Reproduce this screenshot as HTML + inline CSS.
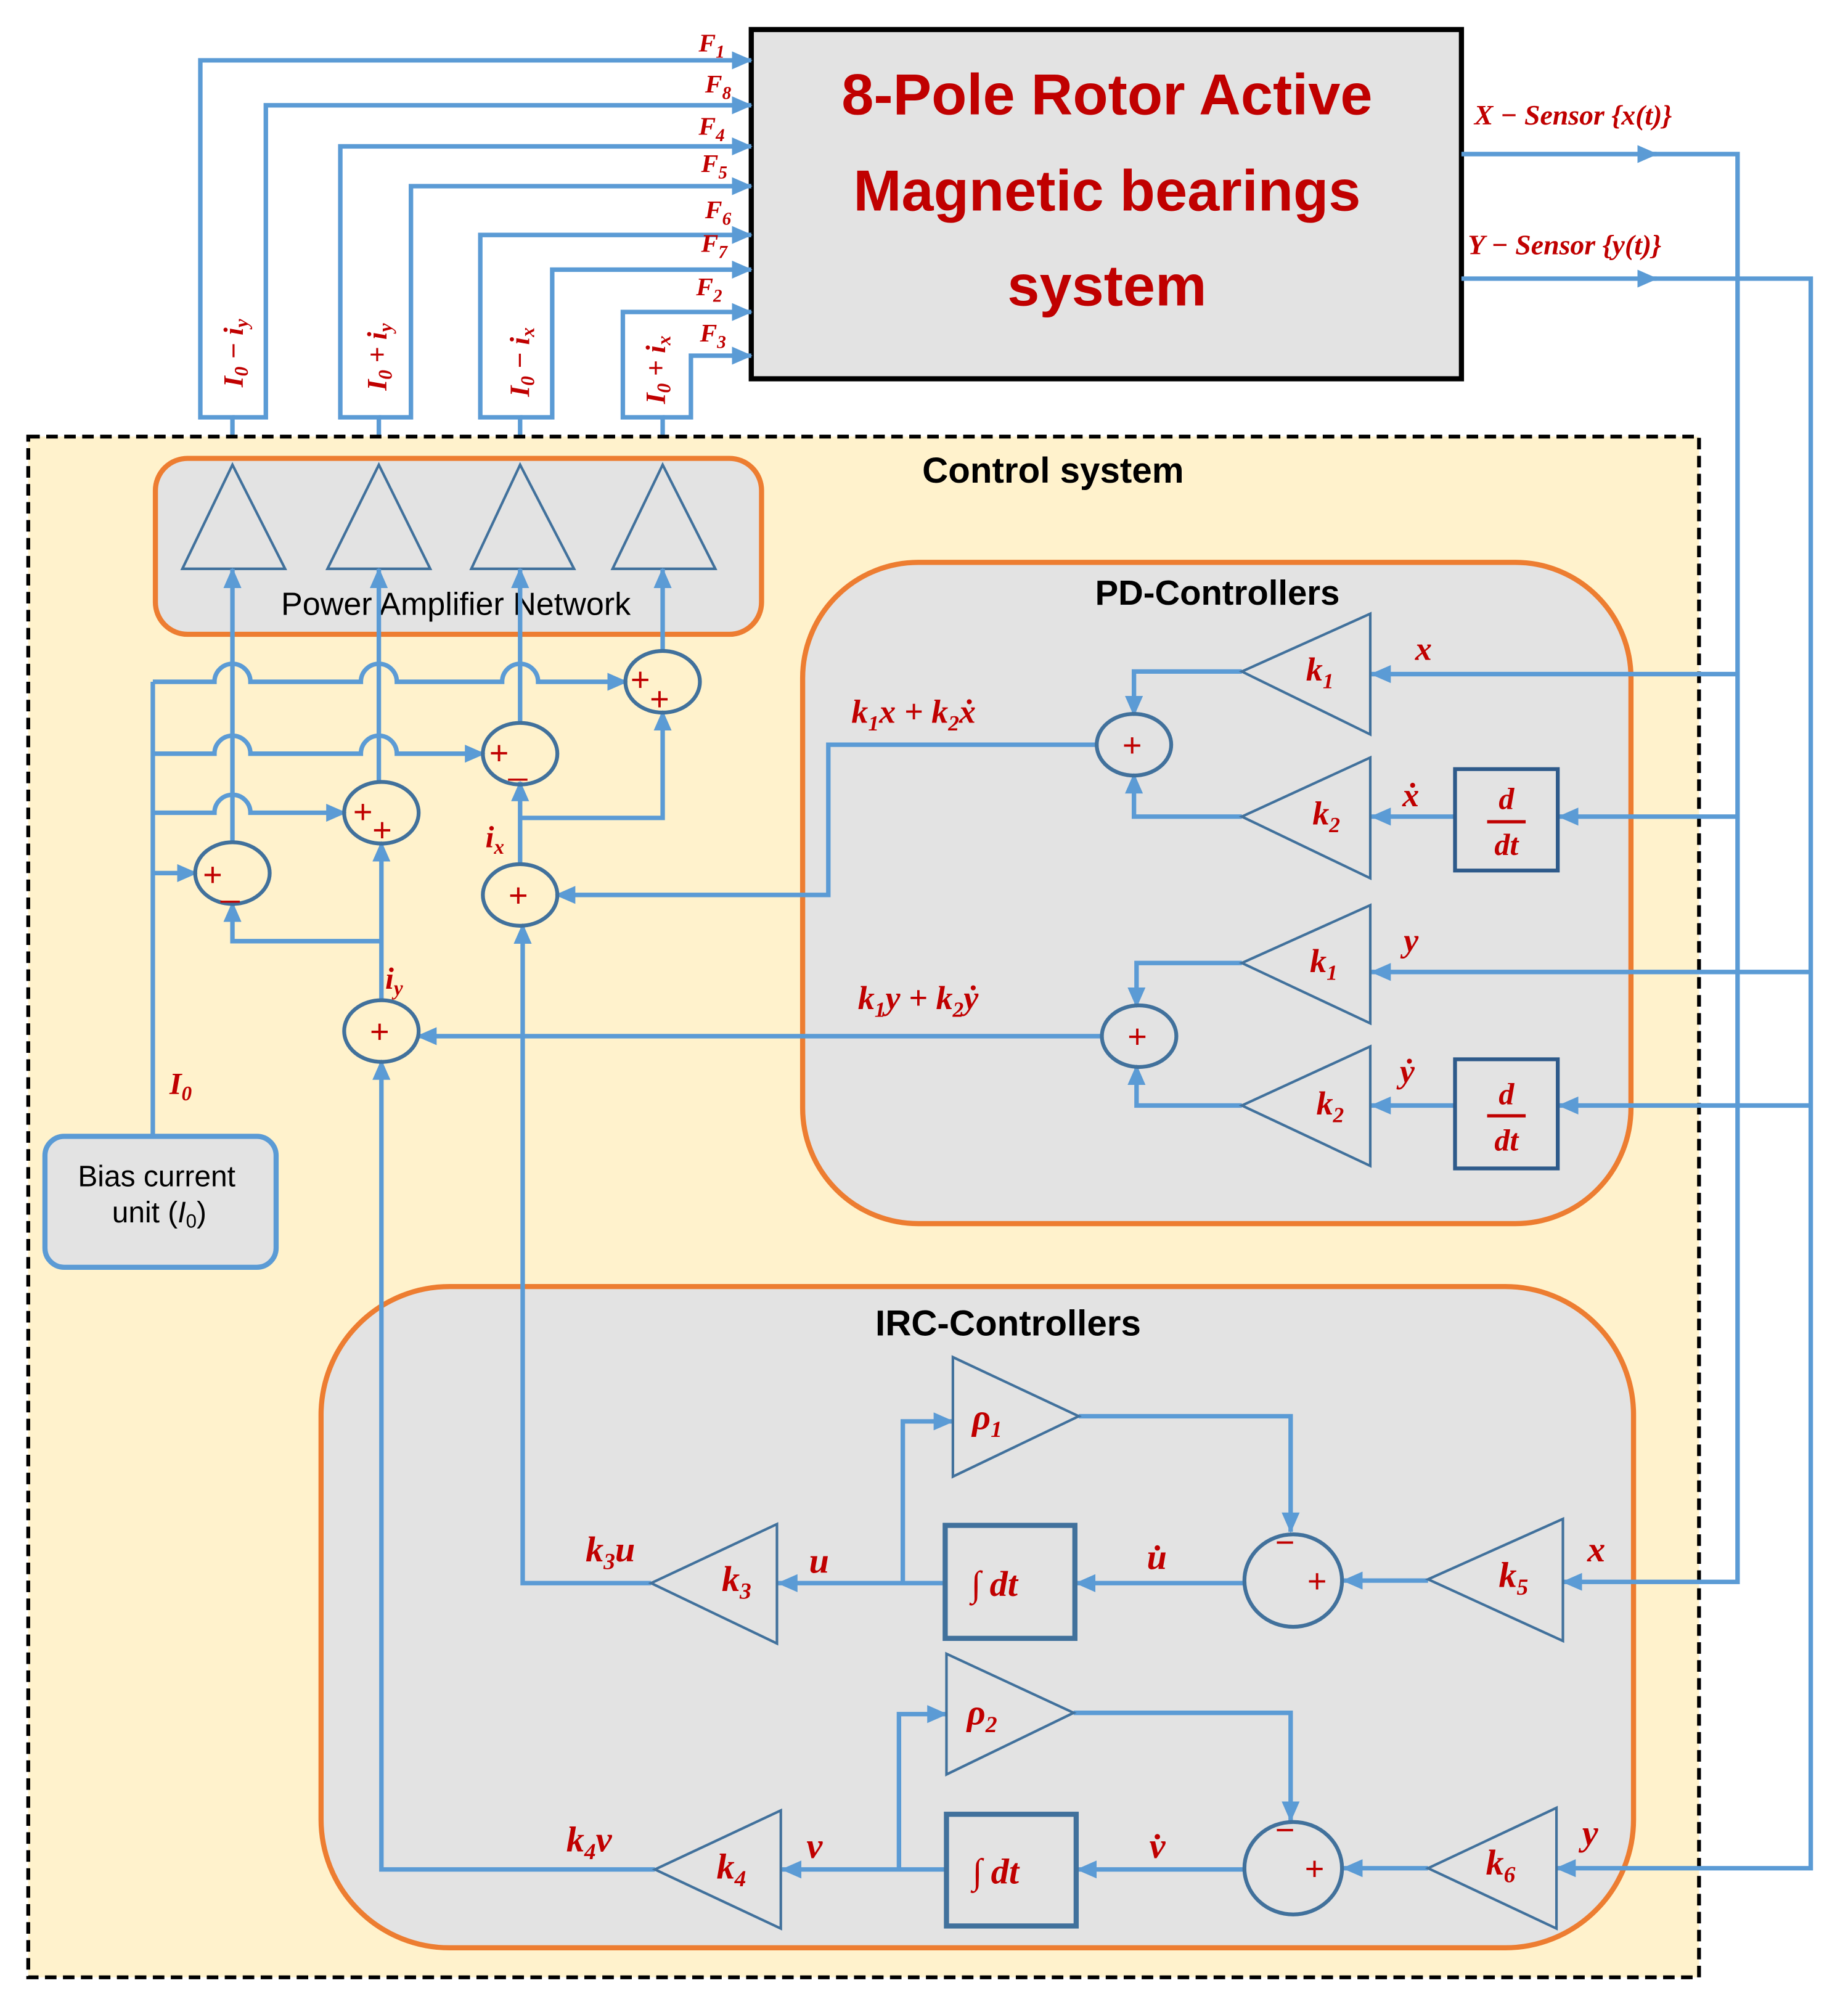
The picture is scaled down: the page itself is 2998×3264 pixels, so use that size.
<!DOCTYPE html>
<html><head><meta charset="utf-8"><style>
html,body{margin:0;padding:0;background:#fff;}
svg{display:block;}
.m{font-family:"Liberation Serif",serif;font-style:italic;font-weight:bold;fill:#c00000;}
.s{font-family:"Liberation Sans",sans-serif;}
.w{fill:none;stroke:#5b9bd5;stroke-width:3.5;}
.c{fill:none;stroke:#41719c;stroke-width:3;}
.t{fill:#e3e3e3;stroke:#41719c;stroke-width:2;}
.pl{font-family:"Liberation Sans",sans-serif;fill:#c00000;font-size:26px;}
</style></head><body>
<svg width="2998" height="3264" viewBox="0 0 1439 1567" preserveAspectRatio="none" xmlns="http://www.w3.org/2000/svg">
<defs>
<marker id="a" markerUnits="userSpaceOnUse" markerWidth="16" markerHeight="14" refX="15" refY="7" orient="auto">
<path d="M0,0 L16,7 L0,14 Z" fill="#5b9bd5"/></marker>
</defs>
<rect width="1439" height="1567" fill="#fff"/>

<!-- main box -->
<rect x="585" y="23" width="553" height="272" fill="#e3e3e3" stroke="#000" stroke-width="4"/>
<g class="s" font-weight="bold" fill="#c00000" font-size="45" text-anchor="middle">
<text x="862" y="89">8-Pole Rotor Active</text>
<text x="862" y="164">Magnetic bearings</text>
<text x="862" y="238">system</text>
</g>

<!-- force lines -->
<g class="w">
<path d="M181 360 V325 H156 V47 H585" marker-end="url(#a)"/>
<path d="M181 325 H207 V82 H585" marker-end="url(#a)"/>
<path d="M295 360 V325 H265 V114 H585" marker-end="url(#a)"/>
<path d="M295 325 H320 V145 H585" marker-end="url(#a)"/>
<path d="M405 360 V325 H374 V183 H585" marker-end="url(#a)"/>
<path d="M405 325 H430 V210 H585" marker-end="url(#a)"/>
<path d="M516 360 V325 H485 V243 H585" marker-end="url(#a)"/>
<path d="M516 325 H538 V277 H585" marker-end="url(#a)"/>
</g>
<g class="m" font-size="20">
<text x="544" y="40">F<tspan font-size="14" dy="5">1</tspan></text>
<text x="549" y="72">F<tspan font-size="14" dy="5">8</tspan></text>
<text x="544" y="105">F<tspan font-size="14" dy="5">4</tspan></text>
<text x="546" y="134">F<tspan font-size="14" dy="5">5</tspan></text>
<text x="549" y="170">F<tspan font-size="14" dy="5">6</tspan></text>
<text x="546" y="196">F<tspan font-size="14" dy="5">7</tspan></text>
<text x="542" y="230">F<tspan font-size="14" dy="5">2</tspan></text>
<text x="545" y="266">F<tspan font-size="14" dy="5">3</tspan></text>
</g>
<g class="m" font-size="22" text-anchor="middle">
<text transform="translate(189,275) rotate(-90)">I<tspan font-size="15" dy="4">0</tspan><tspan dy="-4"> − i</tspan><tspan font-size="15" dy="4">y</tspan></text>
<text transform="translate(301,278) rotate(-90)">I<tspan font-size="15" dy="4">0</tspan><tspan dy="-4"> + i</tspan><tspan font-size="15" dy="4">y</tspan></text>
<text transform="translate(412,282) rotate(-90)">I<tspan font-size="15" dy="4">0</tspan><tspan dy="-4"> − i</tspan><tspan font-size="15" dy="4">x</tspan></text>
<text transform="translate(518,288) rotate(-90)">I<tspan font-size="15" dy="4">0</tspan><tspan dy="-4"> + i</tspan><tspan font-size="15" dy="4">x</tspan></text>
</g>

<g class="m" font-size="22">
<text x="1148" y="97">X − Sensor {x(t)}</text>
<text x="1143" y="198">Y − Sensor {y(t)}</text>
</g>

<!-- control system -->
<rect x="22" y="340" width="1301" height="1200" fill="#fff2cc" stroke="#000" stroke-width="3" stroke-dasharray="9,5"/>
<text x="820" y="376" class="s" font-weight="bold" font-size="28" text-anchor="middle">Control system</text>

<!-- power amplifier -->
<rect x="121" y="357" width="472" height="137" rx="25" fill="#e3e3e3" stroke="#ed7d31" stroke-width="4"/>
<g class="t">
<path d="M181 362 L142 443 H222 Z"/><path d="M295 362 L255 443 H335 Z"/>
<path d="M405 362 L367 443 H447 Z"/><path d="M516 362 L477 443 H557 Z"/>
</g>
<text x="355" y="479" class="s" font-size="25" text-anchor="middle">Power Amplifier Network</text>

<!-- PD box -->
<rect x="625" y="438" width="645" height="515" rx="90" fill="#e3e3e3" stroke="#ed7d31" stroke-width="4"/>
<text x="948" y="471" class="s" font-weight="bold" font-size="27" text-anchor="middle">PD-Controllers</text>
<!-- IRC box -->
<rect x="250" y="1002" width="1022" height="515" rx="100" fill="#e3e3e3" stroke="#ed7d31" stroke-width="4"/>
<text x="785" y="1040" class="s" font-weight="bold" font-size="28" text-anchor="middle">IRC-Controllers</text>

<!-- bias box -->
<rect x="35" y="885" width="180" height="102" rx="15" fill="#e3e3e3" stroke="#5b9bd5" stroke-width="4"/>
<text x="122" y="924" class="s" font-size="23" text-anchor="middle">Bias current</text>
<text x="124" y="952" class="s" font-size="23" text-anchor="middle">unit (<tspan font-style="italic">I</tspan><tspan font-size="15" dy="4">0</tspan><tspan dy="-4">)</tspan></text>

<!-- sensors -->
<g class="w">
<path d="M1138 120 H1290" marker-end="url(#a)"/>
<path d="M1280 120 H1353 V1232 H1217" marker-end="url(#a)"/>
<path d="M1138 217 H1290" marker-end="url(#a)"/>
<path d="M1280 217 H1410 V1455 H1212" marker-end="url(#a)"/>
</g>

<!-- summing network wires -->
<g class="w">
<path d="M119 885 V531"/>
<path d="M119 531 H167 a14 14 0 0 1 28 0 H281 a14 14 0 0 1 28 0 H391 a14 14 0 0 1 28 0 H488" marker-end="url(#a)"/>
<path d="M119 587 H167 a14 14 0 0 1 28 0 H281 a14 14 0 0 1 28 0 H377" marker-end="url(#a)"/>
<path d="M119 633 H167 a14 14 0 0 1 28 0 H269" marker-end="url(#a)"/>
<path d="M119 680 H153" marker-end="url(#a)"/>
<path d="M181 656 V443" marker-end="url(#a)"/>
<path d="M295 609 V443" marker-end="url(#a)"/>
<path d="M405 563 V443" marker-end="url(#a)"/>
<path d="M516 508 V443" marker-end="url(#a)"/>
<path d="M405 673 V609" marker-end="url(#a)"/>
<path d="M405 637 H516 V554" marker-end="url(#a)"/>
<path d="M297 780 V656" marker-end="url(#a)"/>
<path d="M297 733 H181 V703" marker-end="url(#a)"/>
<path d="M855 580 H645 V697 H433" marker-end="url(#a)"/>
<path d="M859 807 H325" marker-end="url(#a)"/>
<path d="M507 1233 H407 V720" marker-end="url(#a)"/>
<path d="M510 1456 H297 V826" marker-end="url(#a)"/>
</g>
<g class="c">
<ellipse cx="181" cy="680" rx="29" ry="24"/>
<ellipse cx="297" cy="633" rx="29" ry="24"/>
<ellipse cx="405" cy="587" rx="29" ry="24"/>
<ellipse cx="516" cy="531" rx="29" ry="24"/>
<ellipse cx="405" cy="697" rx="29" ry="24"/>
<ellipse cx="297" cy="803" rx="29" ry="24"/>
</g>
<g class="pl">
<text x="158" y="690">+</text><text x="172" y="698">_</text>
<text x="275" y="641">+</text><text x="290" y="655">+</text>
<text x="381" y="595">+</text><text x="396" y="603">_</text>
<text x="491" y="538">+</text><text x="506" y="553">+</text>
<text x="396" y="706">+</text><text x="288" y="812">+</text>
</g>
<g class="m" font-size="24">
<text x="378" y="660">i<tspan font-size="16" dy="5">x</tspan></text>
<text x="300" y="770">i<tspan font-size="16" dy="5">y</tspan></text>
<text x="132" y="852">I<tspan font-size="16" dy="5">0</tspan></text>
</g>

<!-- PD internals -->
<g class="w">
<path d="M1353 525 H1068" marker-end="url(#a)"/>
<path d="M1353 636 H1214" marker-end="url(#a)"/>
<path d="M1133 636 H1068" marker-end="url(#a)"/>
<path d="M967 523 H883 V557" marker-end="url(#a)"/>
<path d="M967 636 H883 V603" marker-end="url(#a)"/>
<path d="M1410 757 H1068" marker-end="url(#a)"/>
<path d="M1410 861 H1214" marker-end="url(#a)"/>
<path d="M1133 861 H1068" marker-end="url(#a)"/>
<path d="M967 750 H885 V784" marker-end="url(#a)"/>
<path d="M967 861 H885 V830" marker-end="url(#a)"/>
</g>
<g class="t">
<path d="M967 523 L1067 478 V572 Z"/><path d="M967 636 L1067 590 V684 Z"/>
<path d="M967 750 L1067 705 V797 Z"/><path d="M967 861 L1067 815 V908 Z"/>
</g>
<rect x="1133" y="599" width="80" height="79" fill="#e3e3e3" stroke="#2e5a8a" stroke-width="3"/>
<rect x="1133" y="825" width="80" height="85" fill="#e3e3e3" stroke="#2e5a8a" stroke-width="3"/>
<g class="c"><ellipse cx="883" cy="580" rx="29" ry="24"/><ellipse cx="887" cy="807" rx="29" ry="24"/></g>
<g class="pl"><text x="874" y="589">+</text><text x="878" y="816">+</text></g>
<g class="m" font-size="24" text-anchor="middle">
<text x="1173" y="630">d</text><text x="1173" y="666">dt</text>
<text x="1173" y="860">d</text><text x="1173" y="896">dt</text>
</g>
<line x1="1158" y1="640" x2="1188" y2="640" stroke="#c00000" stroke-width="2.5"/>
<line x1="1158" y1="869" x2="1188" y2="869" stroke="#c00000" stroke-width="2.5"/>
<g class="m" font-size="26">
<text x="1017" y="530">k<tspan font-size="17" dy="6">1</tspan></text>
<text x="1022" y="642">k<tspan font-size="17" dy="6">2</tspan></text>
<text x="1020" y="757">k<tspan font-size="17" dy="6">1</tspan></text>
<text x="1025" y="868">k<tspan font-size="17" dy="6">2</tspan></text>
<text x="1102" y="514">x</text>
<text x="1092" y="628">ẋ</text>
<text x="1093" y="741">y</text>
<text x="1090" y="843">ẏ</text>
<text x="663" y="563">k<tspan font-size="17" dy="6">1</tspan><tspan dy="-6">x + k</tspan><tspan font-size="17" dy="6">2</tspan><tspan dy="-6">ẋ</tspan></text>
<text x="668" y="786">k<tspan font-size="17" dy="6">1</tspan><tspan dy="-6">y + k</tspan><tspan font-size="17" dy="6">2</tspan><tspan dy="-6">ẏ</tspan></text>
</g>

<!-- IRC internals -->
<g class="w">
<path d="M1112 1231 H1046" marker-end="url(#a)"/>
<path d="M969 1233 H838" marker-end="url(#a)"/>
<path d="M736 1233 H606" marker-end="url(#a)"/>
<path d="M703 1233 V1107 H742" marker-end="url(#a)"/>
<path d="M840 1103 H1005 V1193" marker-end="url(#a)"/>
<path d="M1112 1455 H1046" marker-end="url(#a)"/>
<path d="M969 1456 H839" marker-end="url(#a)"/>
<path d="M737 1456 H609" marker-end="url(#a)"/>
<path d="M700 1456 V1335 H737" marker-end="url(#a)"/>
<path d="M836 1334 H1005 V1418" marker-end="url(#a)"/>
</g>
<g class="t">
<path d="M742 1057 L840 1103 L742 1150 Z"/>
<path d="M737 1288 L836 1334 L737 1382 Z"/>
<path d="M1112 1230 L1217 1183 V1278 Z"/>
<path d="M1112 1455 L1212 1408 V1502 Z"/>
<path d="M507 1233 L605 1187 V1280 Z"/>
<path d="M510 1456 L608 1410 V1502 Z"/>
</g>
<rect x="736" y="1188" width="101" height="88" fill="#e3e3e3" stroke="#41719c" stroke-width="4"/>
<rect x="737" y="1413" width="101" height="87" fill="#e3e3e3" stroke="#41719c" stroke-width="4"/>
<g class="c"><ellipse cx="1007" cy="1231" rx="38" ry="36"/><ellipse cx="1007" cy="1455" rx="38" ry="36"/></g>
<g class="pl" font-size="30">
<text x="993" y="1210">−</text><text x="1018" y="1240">+</text>
<text x="993" y="1434">−</text><text x="1016" y="1464">+</text>
</g>
<g class="m" font-size="28">
<text x="757" y="1113">ρ<tspan font-size="18" dy="6">1</tspan></text>
<text x="753" y="1343">ρ<tspan font-size="18" dy="6">2</tspan></text>
<text x="1167" y="1236">k<tspan font-size="18" dy="6">5</tspan></text>
<text x="1157" y="1460">k<tspan font-size="18" dy="6">6</tspan></text>
<text x="562" y="1239">k<tspan font-size="18" dy="6">3</tspan></text>
<text x="558" y="1463">k<tspan font-size="18" dy="6">4</tspan></text>
<text x="456" y="1216">k<tspan font-size="18" dy="6">3</tspan><tspan dy="-6">u</tspan></text>
<text x="441" y="1442">k<tspan font-size="18" dy="6">4</tspan><tspan dy="-6">v</tspan></text>
<text x="630" y="1225">u</text>
<text x="628" y="1447">v</text>
<text x="893" y="1222">u̇</text>
<text x="895" y="1447">v̇</text>
<text x="1236" y="1216">x</text>
<text x="1232" y="1437">y</text>
<text x="756" y="1243">∫ dt</text>
<text x="757" y="1467">∫ dt</text>
</g>
</svg>
</body></html>
